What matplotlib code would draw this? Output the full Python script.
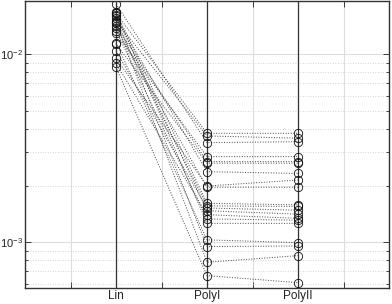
import numpy as np
import matplotlib
matplotlib.use("Agg")
import matplotlib.pyplot as plt
from matplotlib.ticker import LogLocator, NullFormatter

plt.rcParams['font.family'] = ['Liberation Sans', 'DejaVu Sans']
plt.rcParams['mathtext.default'] = 'regular'

# error values per run, one column per method
methods = ['Lin', 'PolyI', 'PolyII']
lin = [0.01645, 0.01503, 0.01843, 0.01288, 0.01408, 0.01130, 0.01547, 0.00949,
       0.01369, 0.01677, 0.01455, 0.01037, 0.01611, 0.00893, 0.01330, 0.01660,
       0.01148, 0.01590, 0.01480, 0.00850]
poly1 = [0.00379, 0.00367, 0.00338, 0.00285, 0.00268, 0.00263, 0.00237, 0.00199,
         0.00196, 0.00161, 0.00156, 0.00152, 0.00147, 0.00140, 0.00133, 0.00126,
         0.00103, 0.000948, 0.000783, 0.000665]
poly2 = [0.00379, 0.00357, 0.00342, 0.00285, 0.00268, 0.00263, 0.00232, 0.00214,
         0.00196, 0.00158, 0.00155, 0.00148, 0.00141, 0.00134, 0.00131, 0.00126,
         0.000995, 0.000956, 0.000849, 0.00061]

fig = plt.figure(figsize=(3.92, 3.04), dpi=100)
ax = fig.add_axes([25/392, 16.5/304, 364/392, 287/304])

xs = np.arange(1, len(methods) + 1)
for k in xs:
    ax.axvline(k, color='#333333', lw=0.9, zorder=1)

for a, b, c in zip(lin, poly1, poly2):
    ax.plot(xs, [a, b, c], ls=':', color='#444444', lw=0.7,
            marker='o', ms=6, mfc='none', mec='#111111', mew=0.6, zorder=3)

ax.set_yscale('log')
ax.set_xlim(0, 4)
ax.set_ylim(5.75e-4, 0.01923)

ticks = np.arange(0, 4.01, 0.5)
labels = ['' for _ in ticks]
for k, m in zip(xs, methods):
    labels[int(k * 2)] = m
ax.set_xticks(ticks)
ax.set_xticklabels(labels)

ax.yaxis.set_major_locator(LogLocator(base=10))
ax.yaxis.set_minor_locator(LogLocator(base=10, subs=np.arange(2, 10)))
ax.yaxis.set_minor_formatter(NullFormatter())

ax.grid(True, which='major', color='#dddddd', lw=0.8, ls='-')
ax.grid(True, which='minor', axis='y', color='#c8c8c8', lw=0.6, ls=(0, (1, 2)))
ax.set_axisbelow(True)

ax.tick_params(which='both', direction='in', top=True, right=True,
               colors='#222222', width=0.6)
ax.tick_params(which='major', length=4)
ax.tick_params(which='minor', length=2)
ax.tick_params(axis='x', pad=2, labelsize=8.5)
ax.tick_params(axis='y', pad=1.5, labelsize=8)
for s in ax.spines.values():
    s.set_color('#333333')
    s.set_linewidth(1.0)

fig.savefig('out.png', dpi=100)
